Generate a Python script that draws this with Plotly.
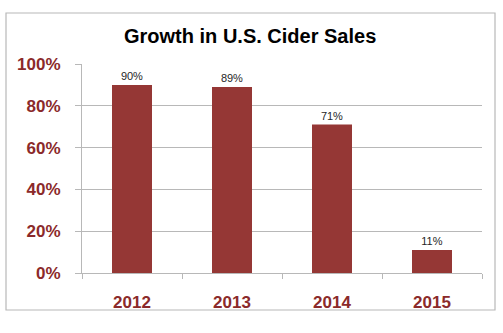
import plotly.graph_objects as go

years = ["2012", "2013", "2014", "2015"]
growth = [90, 89, 71, 11]
labels = ["90%", "89%", "71%", "11%"]
yticks = [0, 20, 40, 60, 80, 100]
ytick_text = ["0%", "20%", "40%", "60%", "80%", "100%"]

red = "#953735"
tickred = "#8B2A2A"
gray = "#b8b8b8"

fig = go.Figure(go.Bar(
    x=years, y=growth, text=labels, textposition="outside",
    textfont=dict(family="Liberation Sans, Arial", size=11, color="#262626"),
    marker=dict(color=red, line=dict(width=0)),
    width=0.4, cliponaxis=False,
))

fig.update_layout(
    width=503, height=333,
    margin=dict(l=82, r=21, t=64, b=60),
    paper_bgcolor="white", plot_bgcolor="white",
    showlegend=False,
    font=dict(family="Liberation Sans, Arial"),
    xaxis=dict(
        showline=True, linecolor=gray, linewidth=1,
        ticks="outside", tickson="boundaries", ticklen=5, tickcolor=gray,
        tickfont=dict(size=17, color=tickred, family="Liberation Sans, Arial", weight="bold"),
        ticklabelstandoff=14,
        showgrid=False,
    ),
    yaxis=dict(
        range=[0, 100], tickvals=yticks, ticktext=ytick_text,
        showline=True, linecolor=gray, linewidth=1,
        ticks="outside", ticklen=6, tickcolor=gray,
        showgrid=True, gridcolor=gray, gridwidth=1,
        zeroline=False,
        tickfont=dict(size=17, color=tickred, family="Liberation Sans, Arial", weight="bold"),
        ticklabelstandoff=11,
    ),
    annotations=[dict(
        text="<b>Growth in U.S. Cider Sales</b>", xref="paper", yref="paper",
        x=(250 - 82) / 400, y=(273 - 36) / 209, xanchor="center", yanchor="middle",
        showarrow=False, font=dict(size=20, color="black", family="Liberation Sans, Arial"),
    )],
    shapes=[dict(
        type="rect", xref="paper", yref="paper",
        x0=(6 - 82) / 400, x1=(495 - 82) / 400,
        y0=(273 - 310) / 209, y1=(273 - 13) / 209,
        line=dict(color="#b8b8b8", width=1.2), fillcolor="rgba(0,0,0,0)", layer="below",
    )],
)

fig.write_html("out.html")
